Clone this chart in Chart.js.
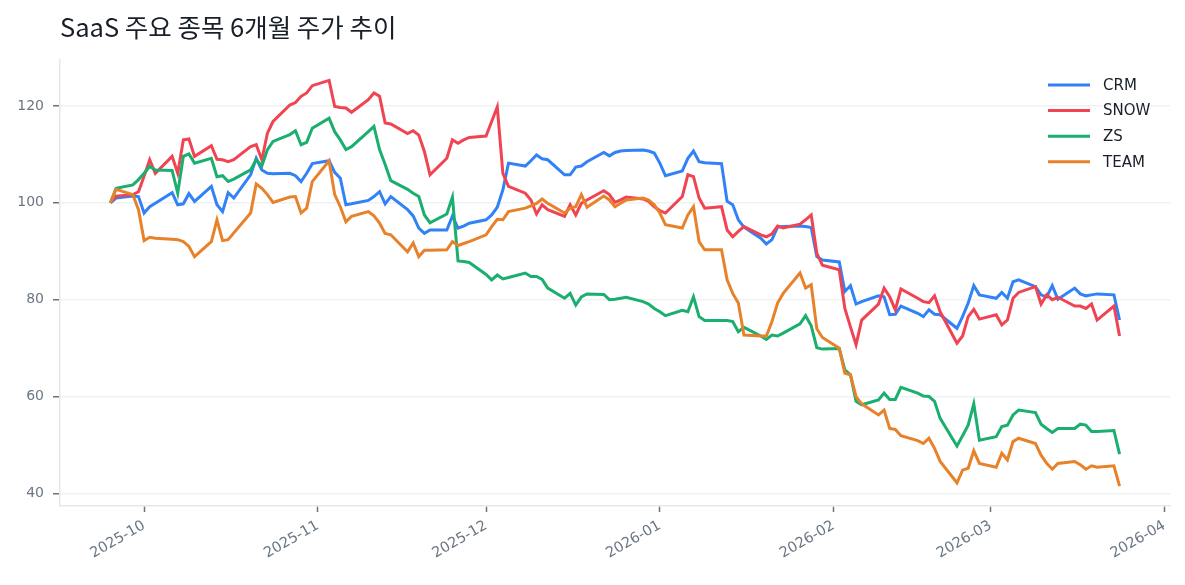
<!DOCTYPE html>
<html>
<head>
  <meta charset="UTF-8">
  <title>SaaS 주요 종목 6개월 주가 추이</title>
  <script src="https://cdn.jsdelivr.net/npm/chart.js@4.4.1/dist/chart.umd.min.js"></script>
  <style>
    html, body { margin: 0; padding: 0; background: #fff; }
    #chart { display: block; }
  </style>
</head>
<body>
<canvas id="chart" width="1185" height="585" style="width:1185px;height:585px"></canvas>
<script>
// trading days (weekdays) 2025-09-25 .. 2026-03-24
var dates = [
  "2025-09-25","2025-09-26","2025-09-29","2025-09-30",
  "2025-10-01","2025-10-02","2025-10-03","2025-10-06","2025-10-07","2025-10-08","2025-10-09","2025-10-10",
  "2025-10-13","2025-10-14","2025-10-15","2025-10-16","2025-10-17","2025-10-20","2025-10-21","2025-10-22",
  "2025-10-23","2025-10-24","2025-10-27","2025-10-28","2025-10-29","2025-10-30","2025-10-31",
  "2025-11-03","2025-11-04","2025-11-05","2025-11-06","2025-11-07","2025-11-10","2025-11-11","2025-11-12",
  "2025-11-13","2025-11-14","2025-11-17","2025-11-18","2025-11-19","2025-11-20","2025-11-21","2025-11-24",
  "2025-11-25","2025-11-26","2025-11-27","2025-11-28",
  "2025-12-01","2025-12-02","2025-12-03","2025-12-04","2025-12-05","2025-12-08","2025-12-09","2025-12-10",
  "2025-12-11","2025-12-12","2025-12-15","2025-12-16","2025-12-17","2025-12-18","2025-12-19","2025-12-22",
  "2025-12-23","2025-12-24","2025-12-25","2025-12-26","2025-12-29","2025-12-30","2025-12-31",
  "2026-01-01","2026-01-02","2026-01-05","2026-01-06","2026-01-07","2026-01-08","2026-01-09","2026-01-12",
  "2026-01-13","2026-01-14","2026-01-15","2026-01-16","2026-01-19","2026-01-20","2026-01-21","2026-01-22",
  "2026-01-23","2026-01-26","2026-01-27","2026-01-28","2026-01-29","2026-01-30",
  "2026-02-02","2026-02-03","2026-02-04","2026-02-05","2026-02-06","2026-02-09","2026-02-10","2026-02-11",
  "2026-02-12","2026-02-13","2026-02-16","2026-02-17","2026-02-18","2026-02-19","2026-02-20","2026-02-23",
  "2026-02-24","2026-02-25","2026-02-26","2026-02-27",
  "2026-03-02","2026-03-03","2026-03-04","2026-03-05","2026-03-06","2026-03-09","2026-03-10","2026-03-11",
  "2026-03-12","2026-03-13","2026-03-16","2026-03-17","2026-03-18","2026-03-19","2026-03-20","2026-03-23",
  "2026-03-24"
];

var crm = [
  100, 101, 101.4, 101.3,
  97.9, 99.2, 99.9, 102.1, 99.6, 99.8, 101.9, 100.3, 103.4, 99.6, 98.2, 102.1, 101, 105.8, 109.2, 106.8,
  106.1, 106, 106.1, 105.6, 104.4, 106.1, 108.1,
  108.7, 106.3, 105.1, 99.6, 99.8, 100.5, 101.3, 102.3, 99.8, 101.3, 98.6, 97.3, 94.8, 93.7, 94.4, 94.4,
  97.3, 94.8, 95.2, 95.8,
  96.5, 97.5, 99.1, 102.7, 108.2, 107.6, 108.7, 109.9, 109.1, 108.9, 105.8, 105.8, 107.4, 107.6, 108.5, 110.4,
  109.7, 110.4, 110.7, 110.8, 110.9, 110.7, 110.3,
  108.2, 105.6, 106.6, 109.2, 110.7, 108.5, 108.3, 108.1, 100.3, 99.6, 96.5, 95, 92.7, 91.5, 92.4, 95,
  95.1, 95.2, 95.1, 94.9, 88.9, 88.2,
  87.8, 81.7, 82.9, 79.1, 79.6, 80.8, 80.6, 76.9, 77, 78.7, 77.2, 76.5, 77.9, 77, 76.9, 74.1,
  76.5, 79.3, 82.9, 81,
  80.3, 81.5, 80.3, 83.7, 84.1, 82.7, 81, 80.6, 82.9, 80.1, 82.4, 81.2, 80.8, 81, 81.2, 81,
  75.8
];

var snow = [
  100, 101.4, 101.7, 102.3,
  105.5, 108.9, 106.1, 109.6, 106.1, 113, 113.2, 109.6, 111.8, 109, 108.9, 108.5, 108.9, 111.6, 112, 108.9,
  114.4, 116.8, 120.2, 120.7, 122, 122.7, 124.2,
  125.3, 119.9, 119.7, 119.6, 118.7, 121.3, 122.7, 122, 116.5, 116.3, 114.3, 114.9, 114, 110.6, 105.8, 109.2,
  113, 112.3, 113, 113.5,
  113.8, 116.8, 119.8, 106.1, 103.4, 102, 100.6, 97.7, 99.6, 98.6, 97.2, 99.6, 97.5, 99.9, 100.6, 102.5,
  101.7, 100.1, 100.6, 101.2, 100.8, 100.3, 99.2,
  98.4, 97.9, 101.3, 105.8, 105.4, 101, 98.9, 99.2, 94.4, 93, 94.1, 95.1, 93.4, 93, 93.6, 95.2,
  94.8, 95.6, 96.5, 97.5, 89.6, 87.1,
  86.2, 78.2, 74.4, 70.7, 75.8, 79.1, 82.4, 80.6, 77.9, 82.2, 80.3, 79.6, 79.4, 80.8, 77.5, 71,
  72.5, 76.5, 78, 76,
  76.9, 74.8, 75.8, 80.3, 81.5, 82.7, 79.1, 81, 80, 80.5, 78.7, 78.7, 78.2, 79.1, 75.8, 78.7,
  72.5
];

var zs = [
  100, 103, 103.7, 104.8,
  106.1, 107.5, 106.8, 106.7, 102, 109.6, 110.1, 108.2, 109.2, 105.4, 105.6, 104.4, 104.9, 106.8, 108.9, 107.6,
  111, 112.7, 114.1, 114.9, 112, 112.5, 115.4,
  117.5, 114.7, 113, 111, 111.6, 114.7, 115.8, 111, 107.9, 104.6, 102.8, 102, 101.3, 97.5, 95.9, 97.7,
  101.2, 88, 87.9, 87.7,
  85.2, 84.1, 85.1, 84.3, 84.6, 85.5, 84.8, 84.8, 84.2, 82.4, 80.3, 81.3, 78.9, 80.6, 81.2, 81.1,
  80, 80.1, 80.3, 80.5, 79.6, 79.1, 78.2,
  77.5, 76.7, 77.8, 77.5, 80.6, 76.5, 75.7, 75.7, 75.7, 75.5, 73.4, 74.3, 72.5, 71.8, 72.7, 72.5,
  73.1, 75, 76.7, 74.6, 70.1, 69.8,
  69.9, 65.5, 64.5, 59, 58.3, 59.3, 60.7, 59.4, 59.4, 61.9, 60.7, 60.1, 60, 59, 55.5, 49.8,
  51.9, 54.1, 58.5, 51,
  51.7, 53.8, 54.1, 56.2, 57.2, 56.7, 54.3, 53.4, 52.6, 53.4, 53.4, 54.3, 54.1, 52.8, 52.8, 53,
  48.1
];

var team = [
  100, 102.8, 101.7, 98.6,
  92.2, 92.9, 92.7, 92.5, 92.4, 92, 91, 88.9, 92, 96.5, 92.2, 92.4, 93.8, 97.9, 103.9, 103,
  101.7, 100.1, 101.2, 101.3, 97.9, 98.9, 104.4,
  108.7, 101.7, 99.2, 96.1, 97.2, 98.2, 97.3, 95.8, 93.7, 93.4, 89.9, 91.7, 88.9, 90.2, 90.2, 90.3,
  92, 91.2, 91.6, 92,
  93.4, 95.1, 96.6, 96.5, 98.2, 98.9, 99.4, 99.9, 100.8, 99.9, 97.9, 98.9, 99.2, 101.7, 99.1, 101.4,
  100.6, 99.2, 99.9, 100.6, 101, 100.6, 99.6,
  97.9, 95.5, 94.8, 97.5, 99.2, 92, 90.3, 90.3, 84.1, 81.3, 79.3, 72.7, 72.5, 72.5, 75.5, 79.3,
  81.3, 85.5, 82.4, 83.1, 74, 72.2,
  70, 64.8, 64.5, 60, 58.5, 56.2, 57.2, 53.4, 53.2, 51.9, 50.9, 50.3, 51.4, 49.3, 46.6, 42.2,
  44.8, 45.2, 48.8, 46.2,
  45.4, 48.3, 46.9, 50.7, 51.4, 50.3, 47.9, 46.2, 45, 46.2, 46.6, 45.9, 45, 45.7, 45.4, 45.7,
  41.5
];

var tickMonths = ["2025-10", "2025-11", "2025-12", "2026-01", "2026-02", "2026-03", "2026-04"];
var yTicks = [40, 60, 80, 100, 120];

var seriesNames = ["CRM", "SNOW", "ZS", "TEAM"];
var seriesColors = ["#3182f6", "#f04452", "#1aae6f", "#e8822a"];

var TITLE = "SaaS 주요 종목 6개월 주가 추이";
var TITLE_FONT = "'Noto Sans CJK KR', 'Noto Sans', sans-serif";
var FONT = "'DejaVu Sans', 'Noto Sans', sans-serif";

function dayNum(s) { return Date.parse(s) / 864e5; }

// axis range like matplotlib's 5% margins
var x0 = dayNum(dates[0]), x1 = dayNum(dates[dates.length - 1]);
var xPad = (x1 - x0) * 0.05;

function toPoints(vals) {
  return vals.map(function(v, i) { return { x: dayNum(dates[i]), y: v }; });
}

var titlePlugin = {
  id: "leftTitle",
  afterDraw: function(chart) {
    var ctx = chart.ctx;
    ctx.save();
    ctx.font = "25.5px " + TITLE_FONT;
    ctx.fillStyle = "#191f28";
    ctx.textBaseline = "middle";
    ctx.fillText(TITLE, chart.chartArea.left, 27);
    ctx.restore();
  }
};

var legendPlugin = {
  id: "insideLegend",
  afterDraw: function(chart) {
    var ctx = chart.ctx, area = chart.chartArea;
    ctx.save();
    ctx.font = "15px " + FONT;
    ctx.textBaseline = "middle";
    chart.data.datasets.forEach(function(ds, i) {
      var y = area.top + 25 + i * 25.6;
      var lx = area.right - 122;
      ctx.strokeStyle = ds.borderColor;
      ctx.lineWidth = 3;
      ctx.beginPath();
      ctx.moveTo(lx, y);
      ctx.lineTo(lx + 42, y);
      ctx.stroke();
      ctx.fillStyle = "#191f28";
      ctx.fillText(ds.label, lx + 55, y + 1);
    });
    ctx.restore();
  }
};

var allSeries = [crm, snow, zs, team];

new Chart(document.getElementById("chart"), {
  type: "line",
  data: {
    datasets: allSeries.map(function(vals, i) {
      return {
        label: seriesNames[i],
        data: toPoints(vals),
        borderColor: seriesColors[i],
        backgroundColor: seriesColors[i],
        borderWidth: 3,
        pointRadius: 0,
        tension: 0,
        fill: false,
        order: allSeries.length - i
      };
    })
  },
  options: {
    responsive: false,
    animation: false,
    layout: { padding: { left: 0, top: 60, right: 15, bottom: 0 } },
    plugins: {
      legend: { display: false },
      title: { display: false },
      tooltip: { enabled: false }
    },
    scales: {
      x: {
        type: "linear",
        min: x0 - xPad,
        max: x1 + xPad,
        afterBuildTicks: function(scale) {
          scale.ticks = tickMonths.map(function(m) { return { value: dayNum(m + "-01") }; });
        },
        afterFit: function(scale) { scale.height = 79; },
        ticks: {
          autoSkip: false,
          minRotation: 30,
          maxRotation: 30,
          padding: 5,
          color: "#6b7684",
          font: { family: FONT, size: 14.5 },
          callback: function(v, i) { return tickMonths[i]; }
        },
        grid: {
          drawOnChartArea: false,
          drawTicks: true,
          tickLength: 6,
          tickColor: "#6b7280",
          tickWidth: 1.5
        },
        border: { color: "#e5e7eb", width: 1.5 }
      },
      y: {
        type: "linear",
        min: 37.4,
        max: 129.5,
        afterBuildTicks: function(scale) {
          scale.ticks = yTicks.map(function(v) { return { value: v }; });
        },
        afterFit: function(scale) { scale.width = 60; },
        ticks: {
          padding: 9,
          color: "#6b7684",
          font: { family: FONT, size: 14 }
        },
        grid: {
          color: "#f0f1f3",
          lineWidth: 1.5,
          tickLength: 7,
          tickColor: "#6b7280",
          tickWidth: 1.5
        },
        border: { color: "#e5e7eb", width: 1.5 }
      }
    }
  },
  plugins: [titlePlugin, legendPlugin]
});
</script>
</body>
</html>
